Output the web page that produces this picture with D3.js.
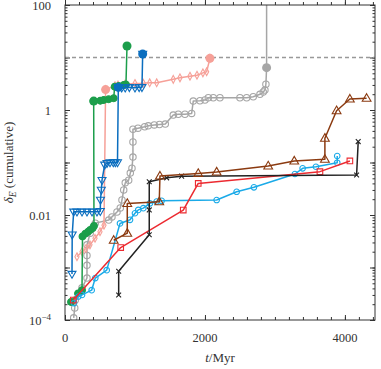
<!DOCTYPE html>
<html lang="en">
<head>
<meta charset="utf-8">
<title>delta E cumulative</title>
<script src="https://d3js.org/d3.v7.min.js"></script>
<style>
    body { margin: 0; background: #fff; }
    svg { display: block; }
    text { font-family: "Liberation Serif", "Times New Roman", serif; fill: #333; }
    .axis path { display: none; }
    .axis line { stroke: #333; }
</style>
</head>
<body>
<svg id="chart"></svg>
<script>
// values: [t in Myr, delta_E]
const grey = [[124,1.1e-4],[139,1.7e-4],[147,2.4e-4],[243,4.1e-4],[314,6.3e-4],[314,1.1e-3],[314,1.7e-3],[314,2.7e-3],
  [360,4.5e-3],[433,7e-3],[625,8e-3],[671,9.2e-3],[743,0.0114],[790,0.0136],[814,0.0193],[839,0.030],[861,0.041],
  [910,0.046],[933,0.063],[957,0.078],[971,0.127],[971,0.246],[971,0.43],[1043,0.45],[1139,0.48],[1190,0.50],
  [1276,0.52],[1350,0.53],[1433,0.54],[1547,0.80],[1619,0.83],[1714,0.83],[1810,0.86],[1833,1.48],[1929,1.5],
  [2000,1.55],[2048,1.71],[2119,1.71],[2214,1.71],[2500,1.71],[2596,1.71],[2690,1.79],[2786,1.99],[2833,2.2],
  [2857,2.4],[2871,3.1]];
const greyExit = [[2871,3.1],[2881,6.4],[2881,100]];
const greyBig = [[2881,6.4]];

const salmon = [[171,1.6e-3],[243,2.0e-3],[300,2.3e-3],[357,2.7e-3],[429,3.6e-3],[500,4.8e-3],[557,6.4e-3],
  [580,2.45],[714,2.9],[757,3.0],[857,3.1],[1000,3.2],[1119,3.23],[1210,3.3],[1310,3.3],[1547,3.84],[1643,4.1],
  [1786,4.4],[1886,4.6],[1971,5.1],[2024,5.36],[2071,9.65]];
const salmonBig = [[580,2.45],[2071,9.65]];

const green = [[86,2.2e-4],[186,3.2e-4],[243,3.7e-4],[250,3.9e-3],[290,4.4e-3],[330,4.8e-3],[361,5.2e-3],
  [395,5.6e-3],[414,6.2e-3],[410,1.48],[504,1.5],[553,1.55],[624,1.6],[696,1.67],[710,2.78],[767,2.86],
  [839,3.0],[871,3.05],[886,16.6]];
const greenBig = [[410,1.48],[886,16.6]];

const blue = [[100,7.5e-4],[103,4.2e-3],[124,0.0115],[171,0.0115],[243,0.0115],[314,0.0115],[386,0.0115],
  [457,0.0115],[504,0.0118],[507,0.0193],[519,0.030],[529,0.046],[567,0.09],[600,0.097],[643,0.1],[690,0.1],
  [719,0.1],[750,0.1],[762,2.7],[810,2.65],[860,2.65],[920,2.7],[1000,2.65],[1060,2.7],[1100,2.7],[1110,11.6]];
const blueBig = [[762,2.7],[1110,11.6]];

const cyan = [[129,2.1e-4],[190,2.8e-4],[243,3e-4],[381,3.7e-4],[433,6.3e-4],[596,8.9e-4],[786,6.9e-3],
  [929,8.1e-3],[1000,0.0108],[1047,0.0125],[1119,0.0135],[1214,0.0167],[1310,0.018],[1381,0.0186],
  [2167,0.0193],[2453,0.0277],[2700,0.0337],[3286,0.0604],[3396,0.0776],[3586,0.083],[3890,0.099],[3890,0.133]];

const red = [[119,2.4e-4],[796,2.4e-3],[1690,0.0124],[1904,0.040],[3643,0.067],[4071,0.107]];

const black = [[767,3e-4],[767,8.5e-4],[1204,4.2e-3],[1204,0.0125],[1204,0.043],[1453,0.051],[1667,0.055],
  [4167,0.058],[4190,0.25]];

const brown = [[696,3.3e-3],[890,4.5e-3],[890,0.0166],[1347,0.0179],[1357,0.0553],[1904,0.062],[2167,0.066],
  [2904,0.086],[3276,0.107],[3714,0.115],[3714,0.29],[3881,0.97],[4071,1.62],[4310,1.67]];

const threshold = 10;
const xMajor = [0, 2000, 4000];
const xLabels = ["0", "2000", "4000"];
const yLabelled = [1e-4, 1e-2, 1, 100];

const W = 381, H = 369;
const margin = {top: 5, right: 6, bottom: 49, left: 65};
const x = d3.scaleLinear().domain([0, 4430]).range([margin.left, W - margin.right]);
const y = d3.scaleLog().domain([1e-4, 100]).range([H - margin.bottom, margin.top]);

const svg = d3.select("#chart").attr("width", W).attr("height", H);

svg.append("clipPath").attr("id", "clip")
  .append("rect").attr("x", x.range()[0]).attr("y", y.range()[1])
  .attr("width", x.range()[1] - x.range()[0]).attr("height", y.range()[0] - y.range()[1]);

// ticks, inward on all four sides
const xMinor = d3.range(0, 4430, 200);
const yMinor = y.ticks().filter(v => !Number.isInteger(Math.log10(v) + 1e-9) || Math.abs(Math.log10(v) - Math.round(Math.log10(v))) > 1e-6);
const yMajor = d3.range(-4, 3).map(e => Math.pow(10, e));

function xAxes(make, ypos) {
  svg.append("g").attr("class", "axis").attr("transform", `translate(0,${ypos})`)
    .call(make(x).tickValues(xMinor).tickSize(ypos > 100 ? -3 : 3).tickFormat(""));
  svg.append("g").attr("class", "axis").attr("transform", `translate(0,${ypos})`)
    .call(make(x).tickValues(xMajor).tickSize(ypos > 100 ? -5 : 5).tickFormat(""));
}
xAxes(d3.axisBottom, y.range()[0]);
xAxes(d3.axisTop, y.range()[1]);

function yAxes(make, xpos, sign) {
  svg.append("g").attr("class", "axis").attr("transform", `translate(${xpos},0)`)
    .call(make(y).tickValues(yMinor).tickSize(sign * 2.5).tickFormat(""));
  svg.append("g").attr("class", "axis").attr("transform", `translate(${xpos},0)`)
    .call(make(y).tickValues(yMajor).tickSize(sign * 5).tickFormat(""));
}
yAxes(d3.axisLeft, x.range()[0], -1);
yAxes(d3.axisRight, x.range()[1], -1);

// tick labels
svg.selectAll(".xl").data(xMajor).enter().append("text")
  .attr("x", d => x(d)).attr("y", y.range()[0] + 22)
  .attr("text-anchor", "middle").style("font-size", "12.5px")
  .text((d, i) => xLabels[i]);

yLabelled.forEach(v => {
  const t = svg.append("text").attr("x", 51).attr("y", y(v) + 4.5)
    .attr("text-anchor", "end").style("font-size", "12.5px");
  if (v < 0.001) {
    t.append("tspan").text("10");
    t.append("tspan").attr("dy", -5).style("font-size", "9px").text("\u22124");
  } else {
    t.text(d3.format("~g")(v));
  }
});

// axis titles
const xt = svg.append("text").attr("x", (x.range()[0] + x.range()[1]) / 2).attr("y", 362)
  .attr("text-anchor", "middle").style("font-size", "13px");
xt.append("tspan").style("font-style", "italic").text("t");
xt.append("tspan").text("/Myr");

const yt = svg.append("text").attr("transform", `translate(13,${(y.range()[0] + y.range()[1]) / 2}) rotate(-90)`)
  .attr("text-anchor", "middle").style("font-size", "13px");
yt.append("tspan").style("font-style", "italic").text("\u03b4");
yt.append("tspan").style("font-style", "italic").style("font-size", "9.5px").attr("dy", 3).text("E");
yt.append("tspan").attr("dy", -3).text(" (cumulative)");

const plot = svg.append("g").attr("clip-path", "url(#clip)");

// threshold line
plot.append("line")
  .attr("x1", x.range()[0]).attr("x2", x.range()[1])
  .attr("y1", y(threshold)).attr("y2", y(threshold))
  .attr("stroke", "#999").attr("stroke-width", 1.5).attr("stroke-dasharray", "4,3");

const line = d3.line().x(d => x(d[0])).y(d => y(d[1]));

// marker shapes
const shapes = {
  circle: r => `M${r},0A${r},${r} 0 1,1 ${-r},0A${r},${r} 0 1,1 ${r},0Z`,
  triUp: s => `M0,${-s}L${s * 0.95},${s * 0.65}L${-s * 0.95},${s * 0.65}Z`,
  triDown: s => `M0,${s}L${s * 0.95},${-s * 0.65}L${-s * 0.95},${-s * 0.65}Z`,
  square: s => `M${-s},${-s}H${s}V${s}H${-s}Z`,
  cross: s => `M${-s},${-s}L${s},${s}M${-s},${s}L${s},${-s}`,
  diamond: s => `M0,${-s * 1.5}L${s * 0.8},0L0,${s * 1.5}L${-s * 0.8},0Z`
};

function series(data, color, shape, size, fill, big) {
  const g = plot.append("g");
  g.append("path").datum(data).attr("d", line)
    .attr("fill", "none").attr("stroke", color).attr("stroke-width", 1.5).attr("stroke-linejoin", "round");
  g.selectAll("path.m").data(data).enter().append("path").attr("class", "m")
    .attr("transform", d => `translate(${x(d[0])},${y(d[1])})`)
    .attr("d", shapes[shape](size))
    .attr("fill", fill ? color : "none").attr("stroke", color).attr("stroke-width", 1.1);
  if (big) {
    g.selectAll("circle.big").data(big).enter().append("circle").attr("class", "big")
      .attr("cx", d => x(d[0])).attr("cy", d => y(d[1])).attr("r", 4.5).attr("fill", color);
  }
}

plot.append("path").datum(greyExit).attr("d", line)
  .attr("fill", "none").attr("stroke", "#a6a6a6").attr("stroke-width", 1.5);
series(grey, "#a6a6a6", "circle", 3.2, false, greyBig);
series(salmon, "#f6a098", "diamond", 2.6, false, salmonBig);
series(green, "#1c9e4b", "circle", 3.4, true, greenBig);
series(blue, "#0b6ebf", "triDown", 4.2, false, blueBig);
series(cyan, "#1aaae8", "circle", 2.8, false, null);
series(red, "#ec2a30", "square", 2.8, false, null);
series(black, "#222222", "cross", 2.4, false, null);
series(brown, "#8b3a10", "triUp", 4.6, false, null);

// frame
svg.append("rect")
  .attr("x", x.range()[0]).attr("y", y.range()[1])
  .attr("width", x.range()[1] - x.range()[0]).attr("height", y.range()[0] - y.range()[1])
  .attr("fill", "none").attr("stroke", "#333").attr("stroke-width", 1);
</script>
</body>
</html>
